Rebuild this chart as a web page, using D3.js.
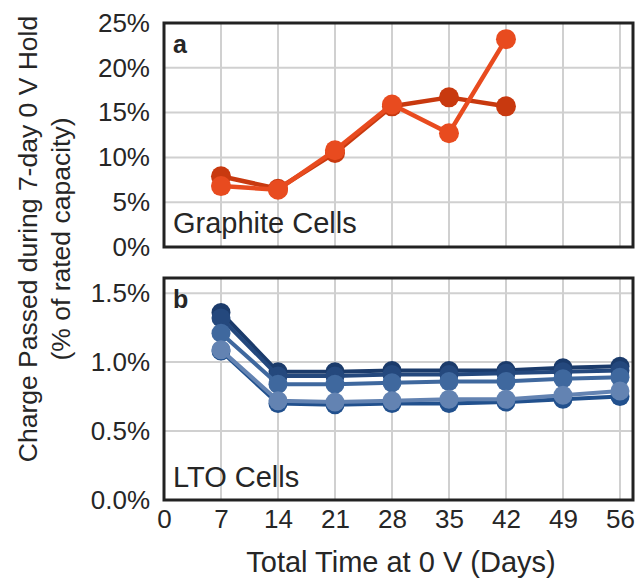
<!DOCTYPE html>
<html>
<head>
<meta charset="utf-8">
<script src="https://cdn.jsdelivr.net/npm/d3@7/dist/d3.min.js"></script>
<style>
  html, body { margin: 0; padding: 0; background: #fff; }
  svg { display: block; font-family: "Liberation Sans", Arial, sans-serif; }
</style>
</head>
<body>
<svg id="chart" width="635" height="579"></svg>
<script>
// Days at 0 V (x values shared by both panels)
const days = [7, 14, 21, 28, 35, 42, 49, 56];
const xTicks = [0, 7, 14, 21, 28, 35, 42, 49, 56];

// Panel a: graphite cells, charge passed (% of rated capacity)
const graphiteDays = [7, 14, 21, 28, 35, 42];
const graphiteCellA = [7.9, 6.5, 10.5, 15.7, 16.7, 15.7];
const graphiteCellB = [6.8, 6.4, 10.8, 15.9, 12.7, 23.2];
const graphiteColors = ["#c8390f", "#e84b1f"];
const graphiteTicks = [0, 5, 10, 15, 20, 25];

// Panel b: LTO cells, charge passed (% of rated capacity)
const ltoCell1 = [1.36, 0.93, 0.93, 0.94, 0.94, 0.94, 0.96, 0.97];
const ltoCell2 = [1.32, 0.90, 0.90, 0.91, 0.91, 0.92, 0.93, 0.94];
const ltoCell3 = [1.21, 0.84, 0.84, 0.85, 0.86, 0.86, 0.88, 0.89];
const ltoCell4 = [1.08, 0.70, 0.69, 0.70, 0.70, 0.71, 0.73, 0.75];
const ltoCell5 = [1.09, 0.72, 0.71, 0.72, 0.73, 0.73, 0.76, 0.79];
const ltoColors = ["#1b3b6b", "#24487d", "#3f689e", "#21508d", "#6383b2"];
const ltoTicks = [0, 0.5, 1.0, 1.5];

const svg = d3.select("#chart");
const textColor = "#262626";
const gridColor = "#d0d0d0";

const left = 164, right = 633;
const x = d3.scaleLinear().domain([0, 57.6]).range([left, right]);

const panels = [
  {
    key: "a", top: 23, bottom: 247, domain: [0, 25], ticks: graphiteTicks,
    fmt: d => d + "%", name: "Graphite Cells", nameY: 233, letterY: 53,
    xs: graphiteDays, series: [graphiteCellA, graphiteCellB], colors: graphiteColors,
    r: 10, lw: 4.5
  },
  {
    key: "b", top: 278, bottom: 500, domain: [0, 1.61], ticks: ltoTicks,
    fmt: d => d.toFixed(1) + "%", name: "LTO Cells", nameY: 487, letterY: 308,
    xs: days, series: [ltoCell1, ltoCell2, ltoCell3, ltoCell4, ltoCell5], colors: ltoColors,
    r: 9.5, lw: 4
  }
];

panels.forEach(p => {
  const y = d3.scaleLinear().domain(p.domain).range([p.bottom, p.top]);
  const g = svg.append("g");

  // grid
  g.append("g").selectAll("line.vx")
    .data(xTicks.filter(d => d > 0))
    .join("line")
    .attr("x1", d => x(d)).attr("x2", d => x(d))
    .attr("y1", p.top).attr("y2", p.bottom)
    .attr("stroke", gridColor).attr("stroke-width", 2);
  g.append("g").selectAll("line.hy")
    .data(p.ticks.filter(d => d > 0))
    .join("line")
    .attr("x1", left).attr("x2", right)
    .attr("y1", d => y(d)).attr("y2", d => y(d))
    .attr("stroke", gridColor).attr("stroke-width", 2);

  // y axis labels
  const yAxis = d3.axisLeft(y).tickValues(p.ticks).tickFormat(p.fmt).tickSize(0).tickPadding(14);
  const ya = g.append("g").attr("transform", `translate(${left},0)`).call(yAxis);
  ya.select(".domain").remove();
  ya.selectAll("text")
    .attr("font-size", 26)
    .attr("fill", textColor)
    .attr("font-family", "Liberation Sans, Arial, sans-serif");

  // series
  const line = d3.line().x((d, i) => x(p.xs[i])).y(d => y(d));
  p.series.forEach((s, k) => {
    const sg = g.append("g");
    sg.append("path")
      .datum(s)
      .attr("d", line)
      .attr("fill", "none")
      .attr("stroke", p.colors[k])
      .attr("stroke-width", p.lw)
      .attr("stroke-linejoin", "round");
    sg.selectAll("circle")
      .data(s)
      .join("circle")
      .attr("cx", (d, i) => x(p.xs[i]))
      .attr("cy", d => y(d))
      .attr("r", p.r)
      .attr("fill", p.colors[k]);
  });

  // frame
  g.append("rect")
    .attr("x", left).attr("y", p.top)
    .attr("width", right - left).attr("height", p.bottom - p.top)
    .attr("fill", "none").attr("stroke", "#222").attr("stroke-width", 3);

  // panel letter and caption
  g.append("text")
    .attr("x", 173).attr("y", p.letterY)
    .attr("font-size", 25).attr("font-weight", "bold").attr("fill", textColor)
    .text(p.key);
  g.append("text")
    .attr("x", 173).attr("y", p.nameY)
    .attr("font-size", 29).attr("fill", textColor)
    .text(p.name);
});

// x axis
const xAxis = d3.axisBottom(x).tickValues(xTicks).tickSize(0).tickPadding(10);
const xa = svg.append("g").attr("transform", "translate(0,500)").call(xAxis);
xa.select(".domain").remove();
xa.selectAll("text")
  .attr("font-size", 26)
  .attr("fill", textColor)
  .attr("font-family", "Liberation Sans, Arial, sans-serif");

svg.append("text")
  .attr("x", 401).attr("y", 572)
  .attr("text-anchor", "middle")
  .attr("font-size", 29).attr("fill", textColor)
  .text("Total Time at 0 V (Days)");

// y axis title (two lines)
const yt = svg.append("text")
  .attr("transform", "translate(0,239) rotate(-90)")
  .attr("text-anchor", "middle")
  .attr("font-size", 26.5).attr("fill", textColor);
yt.append("tspan").attr("x", 0).attr("y", 37).text("Charge Passed during 7-day 0 V Hold");
yt.append("tspan").attr("x", 0).attr("y", 70).text("(% of rated capacity)");
</script>
</body>
</html>
